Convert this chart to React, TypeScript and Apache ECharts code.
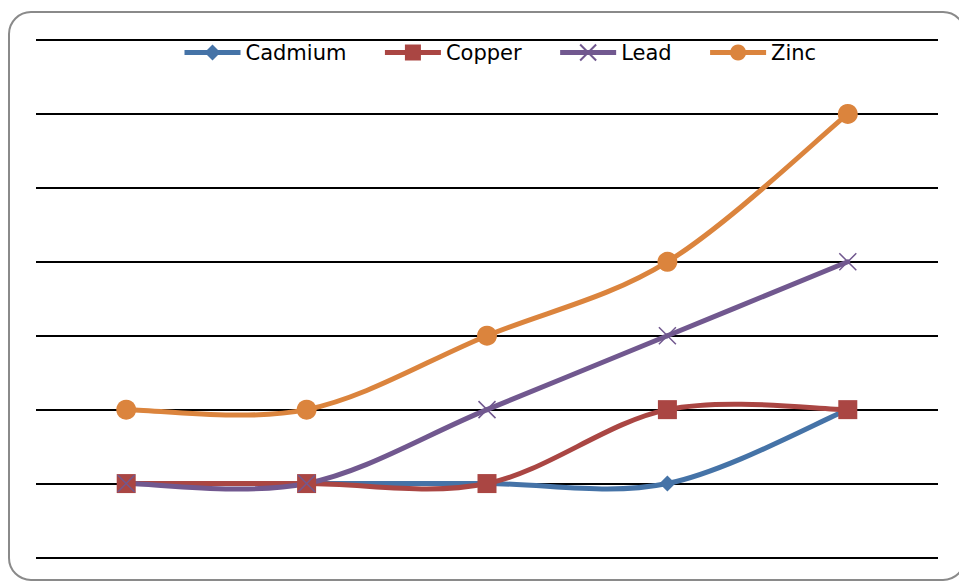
import React, { useEffect, useRef } from "react";
import * as echarts from "echarts";

const categories = ["1", "2", "3", "4", "5"];
const cadmium = [1, 1, 1, 1, 2];
const copper = [1, 1, 1, 2, 2];
const lead = [1, 1, 2, 3, 4];
const zinc = [2, 2, 3, 4, 6];
const seriesNames = ["Cadmium", "Copper", "Lead", "Zinc"];
const colors = ["#4573A7", "#AA4643", "#71588F", "#DB843D"];

export default function App() {
  const ref = useRef<HTMLDivElement>(null);
  useEffect(() => {
    if (!ref.current) return;
    const chart = echarts.init(ref.current, undefined, { renderer: "svg" });
    const datas = [cadmium, copper, lead, zinc];
    const symbols = ["diamond", "rect", "path://M0,0 L10,10 M10,0 L0,10", "circle"];
    const sizes = [16, 19, 17, 20];

    const curveSeries = datas.map((vals, k) => ({
      name: seriesNames[k] + " curve",
      type: "custom",
      z: 2,
      silent: true,
      data: vals.slice(0, -1).map((v, i) => [i, v]),
      encode: { x: 0, y: 1 },
      renderItem: (params: any, api: any) => {
        const i = params.dataIndex;
        const pts = vals.map((v, j) => api.coord([j, v]));
        const n = pts.length;
        const p0 = pts[Math.max(i - 1, 0)];
        const p1 = pts[i];
        const p2 = pts[i + 1];
        const p3 = pts[Math.min(i + 2, n - 1)];
        const t = 1 / 6;
        return {
          type: "bezierCurve",
          shape: {
            x1: p1[0],
            y1: p1[1],
            cpx1: p1[0] + (p2[0] - p0[0]) * t,
            cpy1: p1[1] + (p2[1] - p0[1]) * t,
            cpx2: p2[0] - (p3[0] - p1[0]) * t,
            cpy2: p2[1] - (p3[1] - p1[1]) * t,
            x2: p2[0],
            y2: p2[1],
          },
          style: { fill: "none", stroke: colors[k], lineWidth: 5, lineCap: "round" },
        };
      },
    }));

    const markerSeries = seriesNames.map((name, i) => ({
      name,
      type: "line",
      z: 3,
      data: datas[i],
      symbol: symbols[i],
      symbolSize: sizes[i],
      showAllSymbol: true,
      lineStyle: { width: 0, opacity: 0, color: colors[i] },
      itemStyle:
        i === 2
          ? { color: colors[i], borderColor: colors[i], borderWidth: 1.5 }
          : { color: colors[i], borderWidth: 0 },
      emphasis: { disabled: true },
    }));

    chart.setOption({
      animation: false,
      color: colors,
      legend: {
        left: 177,
        top: 37,
        itemWidth: 56,
        itemHeight: 20,
        itemGap: 36,
        data: seriesNames.map((name, i) => ({
          name,
          lineStyle: { color: colors[i], width: 5, opacity: 1 },
        })),
        textStyle: { fontFamily: "DejaVu Sans", fontSize: 21, color: "#000" },
      },
      grid: { left: 36, right: 21, top: 40, bottom: 24.5 },
      xAxis: {
        type: "category",
        data: categories,
        boundaryGap: true,
        axisLine: { show: false },
        axisTick: { show: false },
        axisLabel: { show: false },
      },
      yAxis: {
        type: "value",
        min: 0,
        max: 7,
        interval: 1,
        axisLine: { show: false },
        axisTick: { show: false },
        axisLabel: { show: false },
        splitLine: { lineStyle: { color: "#000", width: 2 } },
      },
      series: [...curveSeries, ...markerSeries],
      graphic: [
        {
          type: "rect",
          shape: { x: 9, y: 12, width: 956, height: 568, r: 22 },
          style: { fill: "none", stroke: "#8a8a8a", lineWidth: 2 },
          silent: true,
        },
      ],
    });
    return () => chart.dispose();
  }, []);
  return (
    <div
      ref={ref}
      style={{ position: "absolute", left: 0, top: 0, width: 959, height: 582 }}
    />
  );
}
